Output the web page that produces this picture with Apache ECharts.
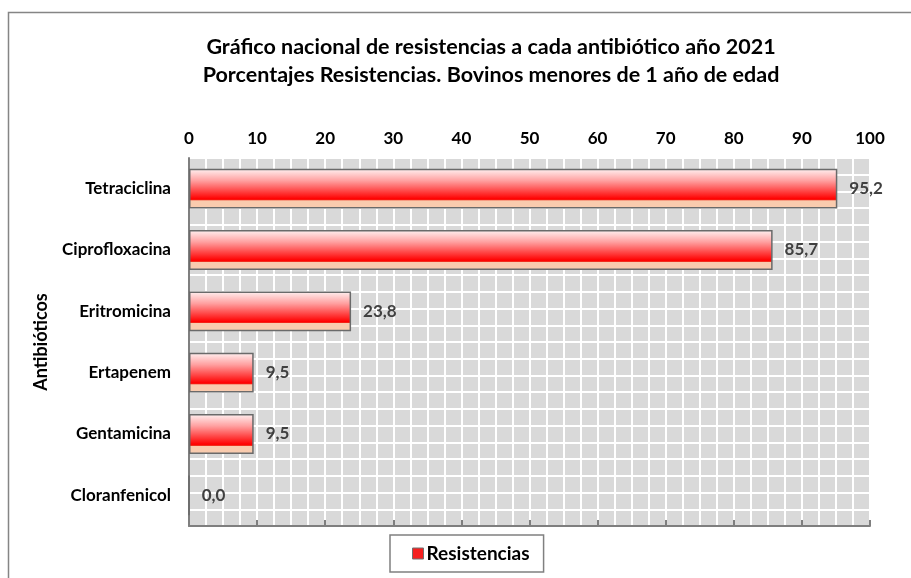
<!DOCTYPE html>
<html>
<head>
<meta charset="utf-8">
<script src="https://cdn.jsdelivr.net/npm/echarts@6/dist/echarts.min.js"></script>
<style>
html,body{margin:0;padding:0;background:#fff;}
#c{width:911px;height:578px;}
</style>
</head>
<body>
<div id="c"></div>
<script>
var categories = ['Tetraciclina', 'Ciprofloxacina', 'Eritromicina', 'Ertapenem', 'Gentamicina', 'Cloranfenicol'];
var resistencias = [95.2, 85.7, 23.8, 9.5, 9.5, 0.0];
var xTicks = [0, 10, 20, 30, 40, 50, 60, 70, 80, 90, 100];
var seriesName = 'Resistencias';
var titleLines = ['Gráfico nacional de resistencias a cada antibiótico año 2021', 'Porcentajes Resistencias. Bovinos menores de 1 año de edad'];
var yAxisName = 'Antibióticos';

var FONT = 'Lato';
var chart = echarts.init(document.getElementById('c'));
var barGradient = new echarts.graphic.LinearGradient(0, 0, 0, 1, [
  {offset: 0, color: '#fff2f2'},
  {offset: 0.3, color: '#ffa0a0'},
  {offset: 0.76, color: '#ff0000'},
  {offset: 0.79, color: '#f03020'},
  {offset: 0.8, color: '#f9cbae'},
  {offset: 1, color: '#f9cbae'}
]);
chart.setOption({
  backgroundColor: '#ffffff',
  animation: false,
  textStyle: {fontFamily: FONT},
  graphic: [{
    type: 'rect', silent: true, z: -10,
    shape: {x: 8.5, y: 12.5, width: 910, height: 580},
    style: {fill: 'none', stroke: '#858585', lineWidth: 1.5}
  }],
  title: {
    text: titleLines.join('\n'),
    left: 486, top: 28, textAlign: 'center',
    textStyle: {fontFamily: FONT, fontWeight: 'bold', fontSize: 21.5, color: '#000', lineHeight: 28}
  },
  legend: {
    data: [{name: seriesName, itemStyle: {color: '#f52020', borderColor: '#707070', borderWidth: 1}}],
    left: 390, top: 535,
    borderColor: '#808080', borderWidth: 1.5,
    padding: [9, 14, 9, 22],
    itemWidth: 11, itemHeight: 11, itemGap: 4,
    icon: 'rect',
    textStyle: {fontFamily: FONT, fontWeight: 'bold', fontSize: 19, color: '#000', padding: [0, 0, 0, -2]}
  },
  grid: {left: 189, right: 41, top: 158, bottom: 52, show: true, backgroundColor: '#d9d9d9', borderColor: '#a0a0a0', borderWidth: 1},
  xAxis: {
    type: 'value', position: 'top', min: 0, max: 100, interval: 10,
    axisLine: {show: true, lineStyle: {color: '#7f7f7f', width: 2}},
    axisTick: {show: true, length: 6, lineStyle: {color: '#7f7f7f', width: 2}},
    axisLabel: {fontFamily: FONT, fontWeight: 'bold', fontSize: 17, color: '#000', margin: 11,
      formatter: function (v) { return xTicks.indexOf(v) >= 0 ? String(v) : ''; }},
    splitLine: {show: true, lineStyle: {color: '#ffffff', width: 2}},
    minorTick: {show: false, splitNumber: 4},
    minorSplitLine: {show: true, lineStyle: {color: '#ffffff', width: 2}}
  },
  yAxis: [{
    type: 'category', data: categories, inverse: true,
    name: yAxisName, nameLocation: 'middle', nameGap: 139, nameRotate: 90,
    nameTextStyle: {fontFamily: FONT, fontWeight: 'bold', fontSize: 18, color: '#000'},
    axisLine: {show: true, lineStyle: {color: '#7f7f7f', width: 2}},
    axisTick: {show: false},
    axisLabel: {fontFamily: FONT, fontWeight: 'bold', fontSize: 17, color: '#000', margin: 18},
    splitLine: {show: false}
  }, {
    type: 'value', min: 0, max: 22, interval: 1, position: 'right',
    axisLine: {show: false}, axisTick: {show: false}, axisLabel: {show: false},
    splitLine: {show: true, lineStyle: {color: '#ffffff', width: 2}}
  }],
  series: [{
    name: seriesName, type: 'bar', data: resistencias, yAxisIndex: 0,
    barWidth: '65%',
    itemStyle: {color: barGradient, borderColor: '#6a6a6a', borderWidth: 1.5},
    label: {
      show: true, position: 'right', distance: 12,
      fontFamily: FONT, fontWeight: 'bold', fontSize: 17, color: '#404040',
      formatter: function (p) { return p.value.toFixed(1).replace('.', ','); }
    }
  }]
});
</script>
</body>
</html>
